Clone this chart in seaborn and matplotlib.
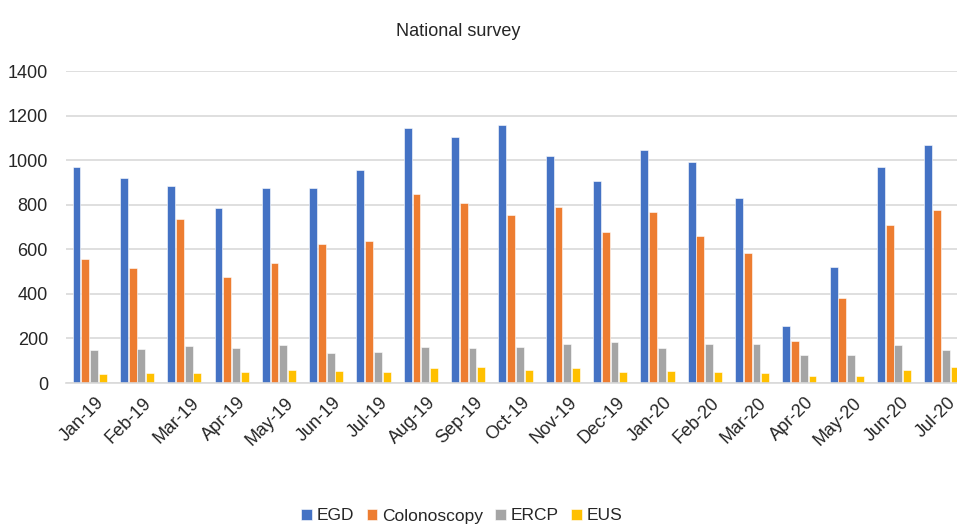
import numpy as np
import pandas as pd
import matplotlib
matplotlib.use("Agg")
import matplotlib.pyplot as plt
import matplotlib.transforms as mtransforms
import seaborn as sns

months = ["Jan-19", "Feb-19", "Mar-19", "Apr-19", "May-19", "Jun-19", "Jul-19",
          "Aug-19", "Sep-19", "Oct-19", "Nov-19", "Dec-19", "Jan-20", "Feb-20",
          "Mar-20", "Apr-20", "May-20", "Jun-20", "Jul-20"]
egd = [969, 921, 882, 785, 873, 873, 957, 1145, 1102, 1159, 1018, 908,
       1045, 991, 830, 257, 520, 969, 1066]
colonoscopy = [556, 516, 736, 477, 538, 624, 635, 846, 807, 754, 790, 676,
               767, 658, 583, 187, 380, 710, 776]
ercp = [146, 152, 164, 155, 169, 135, 139, 161, 157, 161, 175, 182,
        155, 175, 175, 126, 126, 169, 148]
eus = [42, 46, 46, 51, 60, 54, 49, 67, 73, 60, 67, 49,
       54, 49, 45, 33, 33, 60, 72]

procedures = ["EGD", "Colonoscopy", "ERCP", "EUS"]
colors = ["#4472C4", "#ED7D31", "#A5A5A5", "#FFC000"]

# long format for seaborn
df = pd.DataFrame({"month": months, "EGD": egd, "Colonoscopy": colonoscopy,
                   "ERCP": ercp, "EUS": eus})
long = df.melt(id_vars="month", var_name="procedure", value_name="count")

sns.set_style("white")
plt.rcParams['font.family'] = ['Liberation Sans', 'DejaVu Sans']

fig = plt.figure(figsize=(9.57, 5.29), dpi=100)
ax = fig.add_axes([66 / 957, (529 - 383) / 529, (965 - 66) / 957, (383 - 71) / 529])

sns.barplot(data=long, x="month", y="count", hue="procedure", hue_order=procedures,
            palette=colors, saturation=1, width=0.74, gap=0.1, ax=ax, legend=True,
            edgecolor="white", linewidth=0.4)

ax.set_xlim(-0.5, len(months) - 0.5)
ax.set_ylim(0, 1400)
ax.set_yticks(range(0, 1401, 200))
ax.yaxis.grid(True, color="#D9D9D9", linewidth=1.2)
ax.set_axisbelow(True)
for s in ["top", "right", "left"]:
    ax.spines[s].set_visible(False)
ax.spines["bottom"].set_color("#D9D9D9")
ax.spines["bottom"].set_linewidth(1.2)

ax.set_xlabel("")
ax.set_ylabel("")
ax.set_xticks(range(len(months)))
ax.set_xticklabels(months, rotation=45, ha="right", rotation_mode="anchor")
ax.set_xticks(np.arange(len(months) - 1) + 0.5, minor=True)
ax.tick_params(axis="x", which="major", length=0, labelsize=13, colors="#262626", pad=8)
ax.tick_params(axis="x", which="minor", length=5, color="#D9D9D9", width=1.2)
ax.tick_params(axis="y", length=0, labelsize=13, colors="#262626", pad=13)

# nudge rotated labels right, like Excel does
shift = mtransforms.ScaledTranslation(6 / 100, 0, fig.dpi_scale_trans)
for lab in ax.get_xticklabels():
    lab.set_transform(lab.get_transform() + shift)

fig.text(458 / 957, 1 - 32 / 529, "National survey", ha="center", va="center",
         fontsize=13, color="#262626")

handles, labels = ax.get_legend_handles_labels()
ax.legend_.remove()
fig.legend(handles, labels, loc="center", bbox_to_anchor=(462 / 957, 1 - 516 / 529),
           ncol=4, frameon=False, fontsize=12.5, handlelength=0.6, handleheight=0.6,
           handletextpad=0.3, columnspacing=0.7, labelcolor="#262626")

fig.savefig("out.png", dpi=100)
